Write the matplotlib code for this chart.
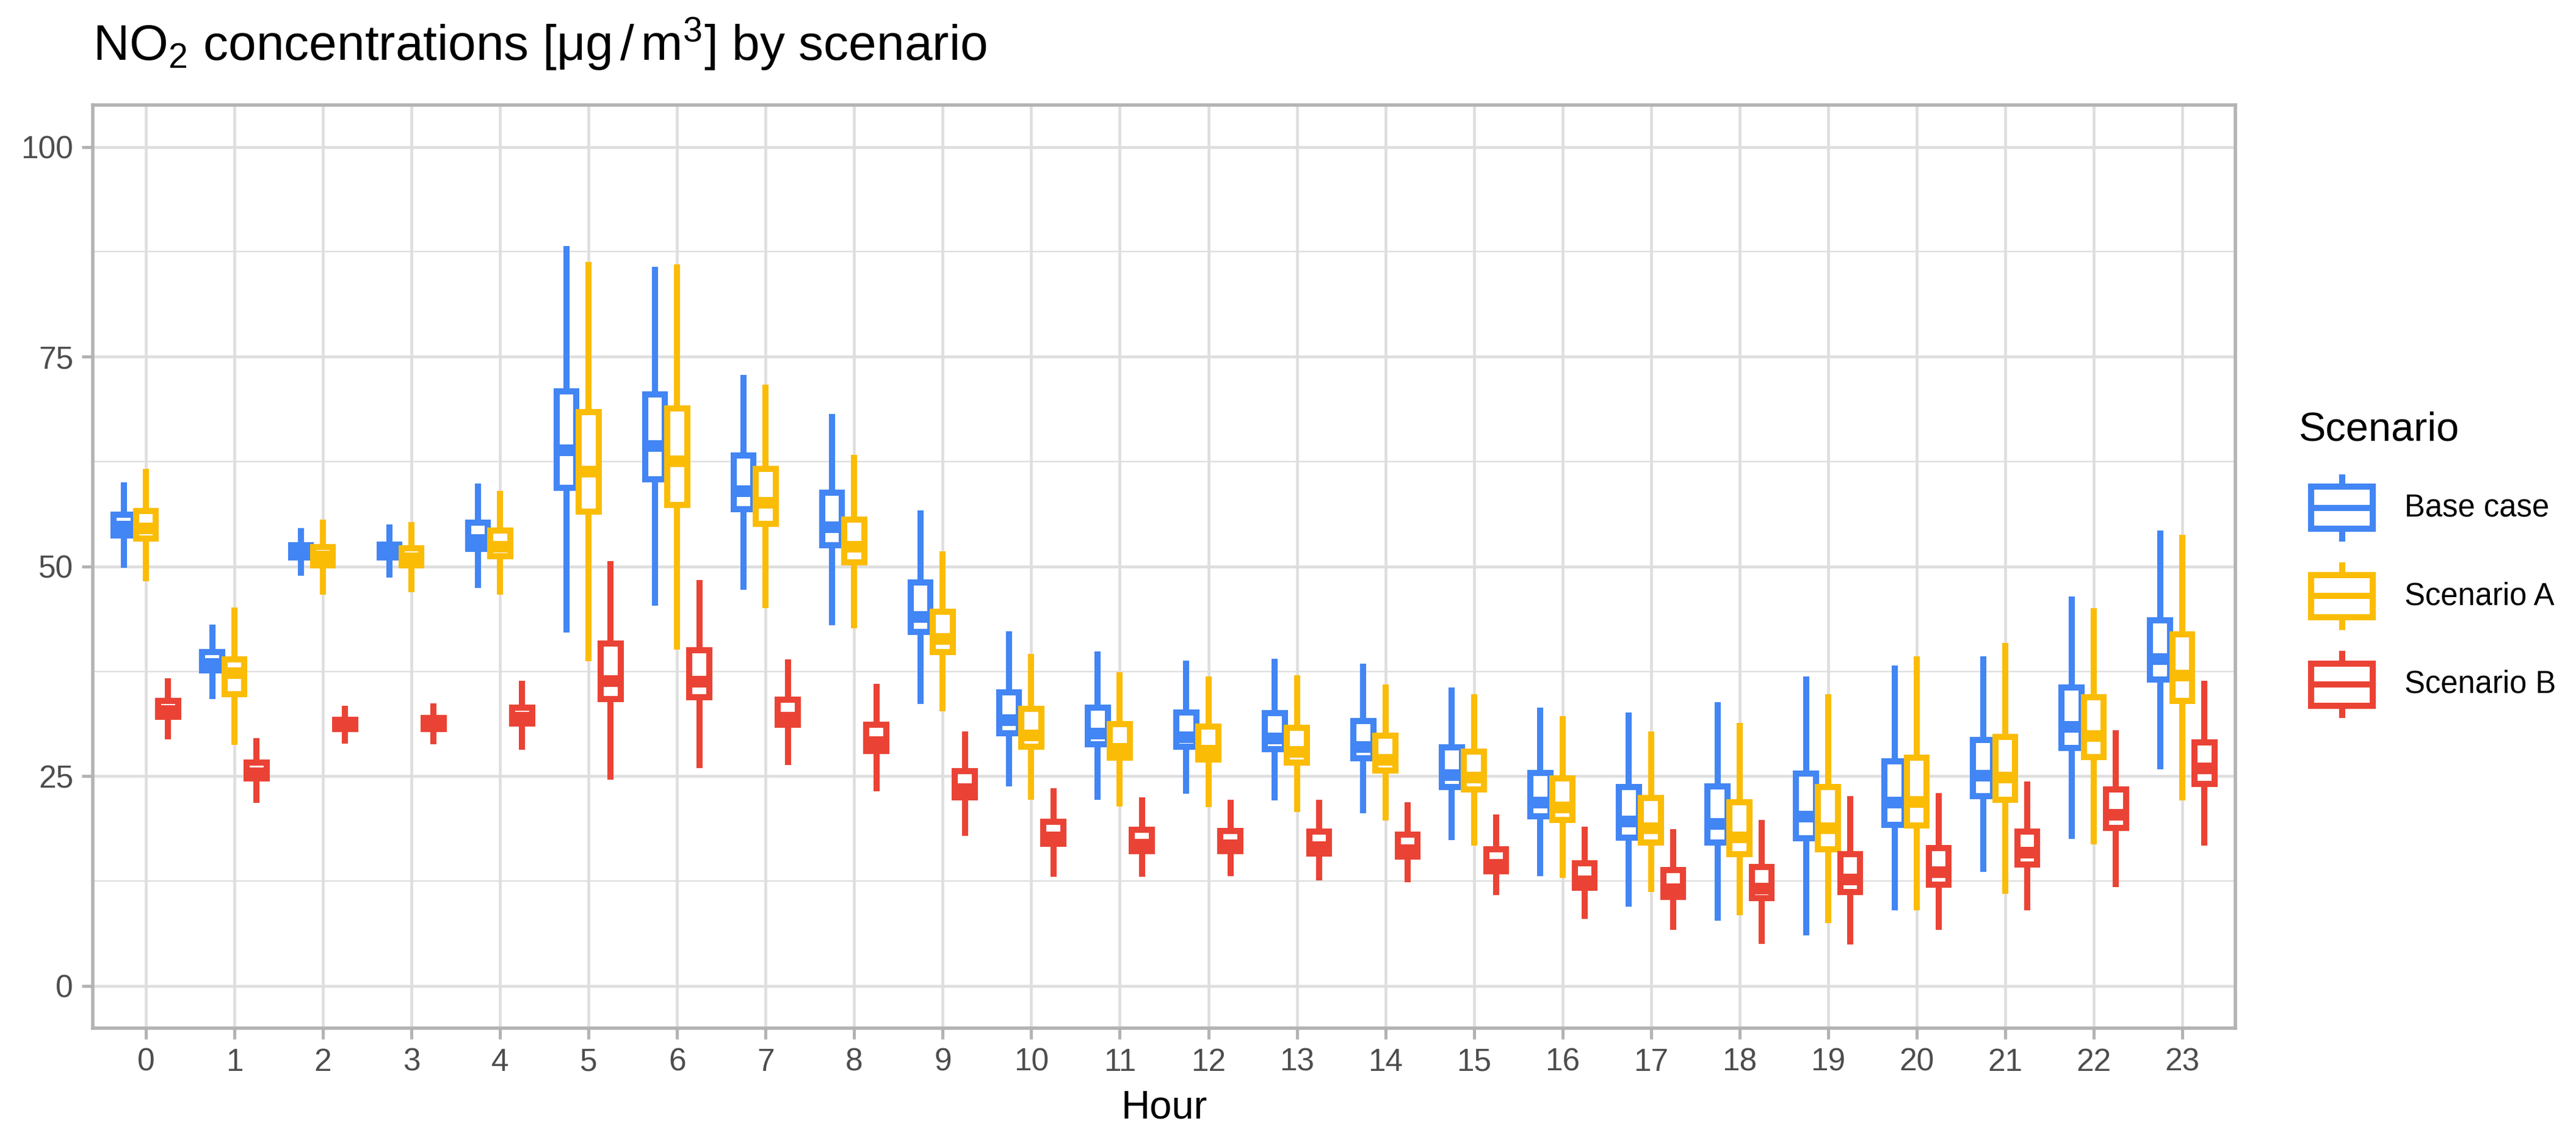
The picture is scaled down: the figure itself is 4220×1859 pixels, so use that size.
import matplotlib
matplotlib.use("Agg")
import matplotlib.pyplot as plt
from matplotlib.patches import Rectangle, Patch
from matplotlib.lines import Line2D
from matplotlib.legend_handler import HandlerBase
from matplotlib.ticker import MultipleLocator

plt.rcParams['font.family'] = ['Liberation Sans', 'DejaVu Sans']
plt.rcParams['mathtext.fontset'] = 'custom'
plt.rcParams['mathtext.rm'] = 'Liberation Sans'
plt.rcParams['mathtext.it'] = 'Liberation Sans:italic'
plt.rcParams['mathtext.bf'] = 'Liberation Sans:bold'

# ---------------- data ----------------
hours = list(range(24))
scenarios = ["Base case", "Scenario A", "Scenario B"]
colors = ["#4285F4", "#FBBC05", "#EA4335"]

base_lo  = [49.8, 34.2, 48.9, 48.7, 47.4, 42.1, 45.3, 47.2, 43.0, 33.6, 23.75, 22.2,
            22.9, 22.1, 20.55, 17.4, 13.1, 9.45, 7.8, 6.0, 9.0, 13.6, 17.5, 25.8]
base_q1  = [53.7, 37.6, 51.05, 51.05, 52.1, 59.4, 60.4, 56.8, 52.5, 42.2, 30.1, 28.8,
            28.5, 28.2, 27.1, 23.7, 20.25, 17.7, 17.1, 17.6, 19.2, 22.65, 28.4, 36.5]
base_med = [54.8, 38.4, 51.7, 51.8, 53.2, 63.85, 64.4, 59.0, 54.7, 44.0, 31.7, 30.1,
            29.7, 29.5, 28.5, 25.2, 21.9, 19.6, 19.35, 20.25, 21.9, 25.1, 30.95, 39.0]
base_q3  = [56.2, 39.8, 52.5, 52.6, 55.2, 70.9, 70.5, 63.2, 58.8, 48.1, 35.0, 33.2,
            32.6, 32.5, 31.6, 28.45, 25.4, 23.7, 23.8, 25.3, 26.8, 29.3, 35.55, 43.6]
base_hi  = [60.0, 43.1, 54.6, 55.0, 59.85, 88.2, 85.7, 72.8, 68.2, 56.7, 42.3, 39.9,
            38.8, 39.0, 38.4, 35.6, 33.2, 32.6, 33.8, 36.9, 38.2, 39.3, 46.4, 54.3]

a_lo  = [48.2, 28.7, 46.6, 46.9, 46.6, 38.7, 40.1, 45.0, 42.6, 32.7, 22.2, 21.4,
         21.3, 20.7, 19.7, 16.7, 12.9, 11.2, 8.4, 7.5, 9.0, 11.0, 16.9, 22.1]
a_q1  = [53.3, 34.8, 50.1, 50.1, 51.2, 56.5, 57.3, 55.1, 50.5, 39.8, 28.5, 27.2,
         26.95, 26.6, 25.7, 23.45, 19.75, 17.1, 15.7, 16.3, 19.1, 22.2, 27.3, 34.0]
a_med = [54.6, 37.35, 51.2, 51.0, 52.35, 61.3, 62.6, 57.6, 52.4, 41.4, 29.9, 28.3,
         28.1, 27.9, 26.95, 24.9, 21.3, 18.8, 17.75, 18.8, 21.95, 24.9, 29.8, 37.0]
a_q3  = [56.6, 38.9, 52.3, 52.2, 54.3, 68.4, 68.8, 61.6, 55.6, 44.6, 33.0, 31.2,
         30.9, 30.8, 29.8, 27.9, 24.7, 22.4, 21.9, 23.7, 27.2, 29.7, 34.4, 41.9]
a_hi  = [61.6, 45.1, 55.6, 55.3, 59.0, 86.3, 86.0, 71.7, 63.3, 51.8, 39.6, 37.4,
         36.9, 37.0, 35.9, 34.8, 32.15, 30.3, 31.35, 34.8, 39.3, 40.9, 45.0, 53.8]

b_lo  = [29.4, 21.8, 28.9, 28.8, 28.15, 24.6, 26.0, 26.35, 23.2, 17.9, 13.0, 13.0,
         13.1, 12.6, 12.35, 10.8, 8.0, 6.7, 5.0, 4.9, 6.7, 9.0, 11.8, 16.7]
b_q1  = [32.1, 24.7, 30.6, 30.6, 31.3, 34.2, 34.4, 31.1, 28.0, 22.5, 16.95, 16.1,
         16.1, 15.8, 15.4, 13.7, 11.7, 10.6, 10.5, 11.2, 12.06, 14.45, 18.8, 24.1]
b_med = [32.8, 25.4, 31.2, 31.2, 32.0, 36.4, 36.3, 32.0, 29.1, 23.5, 17.75, 16.9,
         16.8, 16.6, 16.2, 14.5, 12.5, 11.55, 11.65, 12.7, 13.6, 15.9, 20.4, 26.0]
b_q3  = [34.0, 26.6, 31.7, 31.9, 33.2, 40.8, 40.0, 34.15, 31.15, 25.6, 19.55, 18.6,
         18.5, 18.4, 18.0, 16.3, 14.6, 13.8, 14.2, 15.7, 16.4, 18.4, 23.4, 29.0]
b_hi  = [36.7, 29.5, 33.4, 33.7, 36.4, 50.65, 48.4, 38.9, 36.0, 30.3, 23.6, 22.5,
         22.2, 22.2, 21.9, 20.4, 18.95, 18.7, 19.8, 22.6, 23.0, 24.4, 30.5, 36.4]

series = [
    (base_lo, base_q1, base_med, base_q3, base_hi),
    (a_lo, a_q1, a_med, a_q3, a_hi),
    (b_lo, b_q1, b_med, b_q3, b_hi),
]

# ---------------- figure ----------------
W, H = 4220, 1859
DPI = 100
fig = plt.figure(figsize=(W / DPI, H / DPI), dpi=DPI)
px = 72.0 / DPI  # points per pixel

pl, pr, pt, pb = 152, 3662, 172, 1683.5
ax = fig.add_axes([pl / W, 1 - pb / H, (pr - pl) / W, (pb - pt) / H])

LW = 10 * px
MED_LW = 19 * px
dodge = 0.25
box_w = 0.225

for k, (lo, q1, med, q3, hi) in enumerate(series):
    c = colors[k]
    stats = [dict(whislo=lo[i], q1=q1[i], med=med[i], q3=q3[i], whishi=hi[i], fliers=[])
             for i in range(len(hours))]
    pos = [h + (k - 1) * dodge for h in hours]
    ax.bxp(stats, positions=pos, widths=box_w, patch_artist=True,
           showcaps=False, showfliers=False, manage_ticks=False,
           boxprops=dict(facecolor="white", edgecolor=c, linewidth=LW, joinstyle="miter"),
           whiskerprops=dict(color=c, linewidth=LW, solid_capstyle="butt"),
           medianprops=dict(color=c, linewidth=MED_LW, solid_capstyle="butt"),
           zorder=3 + k)

ax.set_xlim(-0.6, 23.6)
ax.set_ylim(-5, 105)
ax.set_xticks(hours)
ax.set_xticklabels([str(h) for h in hours])
ax.set_yticks([0, 25, 50, 75, 100])
ax.yaxis.set_minor_locator(MultipleLocator(12.5))

grid_c = "#DEDEDE"
ax.grid(True, which="major", axis="both", color=grid_c, linewidth=4.6 * px, zorder=0)
ax.grid(True, which="minor", axis="y", color=grid_c, linewidth=2.4 * px, zorder=0)
ax.set_axisbelow(True)

for s in ax.spines.values():
    s.set_color("#B3B3B3")
    s.set_linewidth(5.5 * px)
    s.set_zorder(10)

ax.tick_params(axis="both", which="major", direction="out", length=18 * px,
               width=5 * px, color="#B3B3B3", labelcolor="#4D4D4D",
               labelsize=37, pad=14 * px)
ax.tick_params(axis="y", which="minor", length=0)

# title and axis label
fig.text(152 / W, 1 - 99 / H, r"NO$_2$ concentrations [μg$\,$/$\,$m$^3$] by scenario",
         fontsize=59, ha="left", va="baseline", color="black")
fig.text(1907 / W, 1 - 1832 / H, "Hour", fontsize=47, ha="center", va="baseline",
         color="black")


# legend
class BoxKey(HandlerBase):
    def create_artists(self, legend, orig_handle, xdescent, ydescent, width, height,
                       fontsize, trans):
        c = orig_handle.get_edgecolor()
        x0, y0 = -xdescent, -ydescent
        w, h = width, height
        rect = Rectangle((x0 + 0.125 * w, y0 + 0.25 * h), 0.75 * w, 0.5 * h,
                         facecolor="white", edgecolor=c, linewidth=LW,
                         joinstyle="miter", transform=trans)
        med = Line2D([x0 + 0.125 * w, x0 + 0.875 * w], [y0 + 0.5 * h] * 2, color=c,
                     linewidth=LW, solid_capstyle="butt", transform=trans)
        wt = Line2D([x0 + 0.5 * w] * 2, [y0 + 0.75 * h, y0 + 0.9 * h], color=c,
                    linewidth=LW, solid_capstyle="butt", transform=trans)
        wb = Line2D([x0 + 0.5 * w] * 2, [y0 + 0.1 * h, y0 + 0.25 * h], color=c,
                    linewidth=LW, solid_capstyle="butt", transform=trans)
        return [wt, wb, rect, med]


handles = [Patch(facecolor="white", edgecolor=c) for c in colors]
label_fs = 36.5
fs_px = label_fs / px
key_w = 135.0
key_h = 138.0
hh = (key_h / fs_px - 0.245) / 0.65
leg = fig.legend(handles, scenarios, handler_map={Patch: BoxKey()},
                 loc="upper left", bbox_to_anchor=(3769 / W, 1 - 763 / H),
                 frameon=False, fontsize=label_fs,
                 handlelength=key_w / fs_px, handleheight=hh,
                 handletextpad=35 / fs_px, labelspacing=6.5 / fs_px,
                 borderpad=0, borderaxespad=0)

fig.text(3765 / W, 1 - 722 / H, "Scenario", fontsize=48, ha="left", va="baseline",
         color="black")

fig.savefig("out.png", dpi=DPI, facecolor="white")
